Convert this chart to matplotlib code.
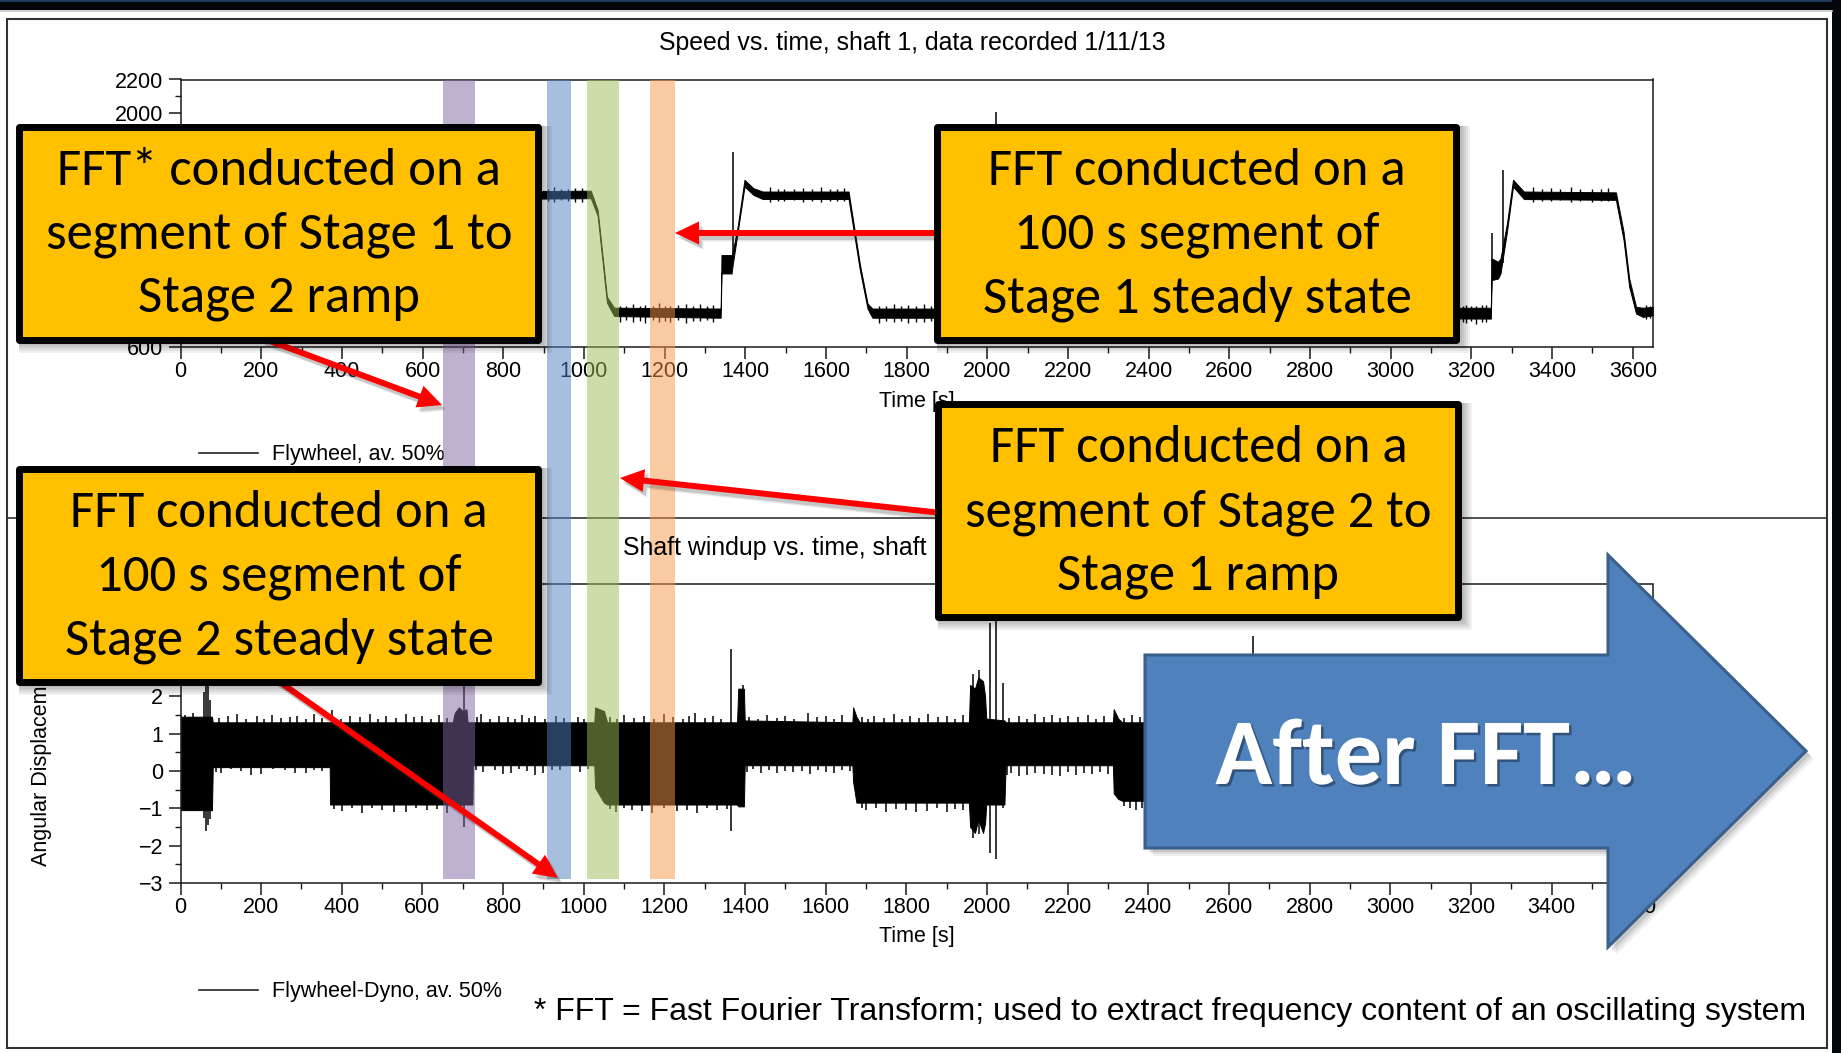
import numpy as np
import matplotlib
matplotlib.use("Agg")
import matplotlib.pyplot as plt
import matplotlib.patheffects as pe
from matplotlib import font_manager
from matplotlib.lines import Line2D
from matplotlib.patches import Rectangle, Polygon
from matplotlib.transforms import Affine2D, blended_transform_factory

# ---------------------------------------------------------------------------
# Flywheel speed, shaft 1 (rpm): lower / upper edge of the recorded trace
speed_t = [0, 370, 400, 425, 690, 705, 714, 740, 1017, 1034, 1057, 1075,
           1339, 1341, 1366, 1368, 1381, 1398, 1420, 1443, 1656, 1684, 1703,
           1715, 1962, 1990, 2010, 2040, 2318, 2345, 2368, 3248, 3250, 3266,
           3272, 3288, 3303, 3330, 3558, 3577, 3591, 3608, 3625, 3650]
speed_lo = [1485, 1485, 1150, 775, 775, 1150, 1560, 1485, 1490, 1385, 865, 785,
            775, 1040, 1040, 1080, 1285, 1560, 1510, 1485, 1485, 1060, 830,
            775, 775, 1250, 1480, 1485, 1485, 1150, 775, 770, 1000, 1010,
            1040, 1290, 1560, 1485, 1480, 1240, 960, 800, 780, 790]
speed_hi = [1530, 1530, 1200, 830, 830, 1250, 1610, 1530, 1535, 1420, 900, 835,
            830, 1150, 1150, 1160, 1320, 1600, 1550, 1530, 1530, 1095, 860,
            830, 830, 1350, 1540, 1530, 1530, 1190, 830, 835, 1130, 1110,
            1130, 1340, 1600, 1530, 1525, 1290, 1010, 840, 835, 840]

# isolated speed spikes (s, rpm, rpm)
speed_spike_t = [1369, 2021, 3251, 3278]
speed_spike_lo = [1150, 1500, 1000, 1100]
speed_spike_hi = [1764, 2003, 1281, 1657]

# ragged edge of the speed trace
speed_fringe_t = [912, 925, 944, 960, 978, 995, 1090, 1105, 1122, 1138, 1151,
                  1170, 1186, 1200, 1214, 1233, 1252, 1270, 1288, 1305, 1321,
                  1462, 1480, 1497, 1520, 1544, 1566, 1588, 1610, 1628, 1645,
                  1732, 1750, 1768, 1786, 1803, 1822, 1842, 1860,
                  3178, 3186, 3200, 3212, 3225, 3236, 3352, 3375, 3398, 3420,
                  3447, 3470, 3498, 3520, 3538, 3632, 3642]
speed_fringe_lo = [1472, 1470, 1478, 1475, 1470, 1468, 752, 760, 748, 758, 745,
                   760, 752, 756, 750, 760, 742, 758, 755, 760, 748,
                   1470, 1476, 1472, 1478, 1466, 1475, 1470, 1476, 1472, 1474,
                   742, 755, 750, 758, 745, 752, 748, 756,
                   752, 745, 756, 740, 750, 748, 1468, 1476, 1472, 1478,
                   1466, 1474, 1470, 1476, 1472, 765, 772]
speed_fringe_hi = [1548, 1555, 1545, 1545, 1550, 1552, 848, 845, 858, 846, 852,
                   848, 862, 845, 845, 850, 855, 848, 860, 846, 850,
                   1556, 1545, 1548, 1546, 1552, 1546, 1558, 1545, 1546, 1550,
                   848, 846, 858, 845, 852, 848, 856, 846,
                   846, 850, 845, 848, 850, 852, 1555, 1546, 1550, 1545,
                   1556, 1546, 1548, 1545, 1552, 852, 848]

# Shaft windup, flywheel-dyno (deg): lower / upper edge of the recorded trace
wind_t = [0, 78, 80, 370, 371, 675, 680, 690, 700, 709, 712, 724, 725, 1026,
          1028, 1050, 1058, 1380, 1383, 1397, 1399, 1666, 1668, 1676, 1684,
          1955, 1958, 1970, 1978, 1990, 1995, 1998, 2043, 2046, 2312, 2314,
          2325, 2335, 3248, 3252, 3296, 3300, 3556, 3558, 3570, 3650]
wind_lo = [-1.05, -1.05, 0.10, 0.10, -0.90, -0.90, -0.90, -0.95, -0.90, -0.90,
           -0.90, -0.90, 0.15, 0.15, -0.45, -0.85, -0.90, -0.90, -0.95, -0.95,
           0.15, 0.15, -0.30, -0.85, -0.85, -0.85, -1.50, -1.66, -1.30, -1.66,
           -1.40, -0.90, -0.90, 0.15, 0.15, -0.60, -0.75, -0.80, -0.80, -1.20,
           -1.10, 0.15, 0.15, -0.85, -0.85, -0.85]
wind_hi = [1.45, 1.45, 1.30, 1.30, 1.30, 1.30, 1.55, 1.70, 1.60, 1.65,
           1.30, 1.30, 1.30, 1.30, 1.70, 1.60, 1.30, 1.30, 2.20, 2.20,
           1.35, 1.30, 1.70, 1.45, 1.30, 1.30, 2.30, 2.20, 2.50, 2.40,
           2.00, 1.40, 1.35, 1.30, 1.30, 1.65, 1.40, 1.30, 1.30, 1.90,
           1.80, 1.30, 1.30, 1.70, 1.30, 1.30]

# isolated windup spikes (s, deg, deg)
wind_spike_t = [58, 64, 69, 74, 702, 1366, 1394, 1964, 1980, 2008, 2023, 2040,
                2660, 3262, 3280]
wind_spike_lo = [-1.25, -1.60, -1.45, -1.30, -1.50, -1.60, -0.95, -1.80, -1.70,
                 -2.20, -2.35, -1.00, 0.80, -1.40, -1.30]
wind_spike_hi = [2.10, 2.55, 2.35, 1.90, 2.45, 3.25, 2.30, 2.60, 2.70,
                 3.95, 4.00, 2.35, 3.60, 2.20, 2.60]

# ragged upper edge of the windup trace (tooth tops, deg)
wind_top_t = [12, 30, 95, 118, 140, 162, 190, 208, 226, 250, 272, 290, 312, 330,
              352, 376, 398, 420, 445, 470, 490, 510, 535, 558, 580, 600, 622,
              640, 660, 735, 746, 768, 790, 812, 830, 846, 864, 880, 905, 930,
              950, 985, 1000, 1065, 1082, 1100, 1125, 1150, 1175, 1200, 1222,
              1245, 1260, 1277, 1300, 1320, 1340, 1410, 1432, 1455, 1478, 1500,
              1522, 1555, 1578, 1600, 1620, 1640, 1690, 1705, 1720, 1745, 1770,
              1790, 1810, 1830, 1854, 1878, 1900, 1920, 1940, 2055, 2080, 2100,
              2120, 2140, 2162, 2180, 2200, 2225, 2250, 2270, 2290, 2340, 2360,
              2380]
wind_top_v = [1.50, 1.55, 1.42, 1.48, 1.52, 1.40, 1.46, 1.38, 1.50, 1.41, 1.45,
              1.47, 1.39, 1.52, 1.42, 1.63, 1.40, 1.48, 1.43, 1.52, 1.38, 1.47,
              1.41, 1.52, 1.44, 1.46, 1.39, 1.50, 1.42, 1.45, 1.52, 1.40, 1.47,
              1.43, 1.38, 1.50, 1.41, 1.46, 1.39, 1.48, 1.42, 1.45, 1.40, 1.44,
              1.39, 1.50, 1.42, 1.46, 1.40, 1.52, 1.43, 1.38, 1.47, 1.55, 1.41,
              1.48, 1.40, 1.45, 1.39, 1.50, 1.42, 1.47, 1.40, 1.55, 1.43, 1.48,
              1.39, 1.50, 1.44, 1.40, 1.48, 1.42, 1.52, 1.39, 1.46, 1.41, 1.52,
              1.43, 1.48, 1.40, 1.50, 1.42, 1.48, 1.39, 1.52, 1.44, 1.50, 1.41,
              1.46, 1.43, 1.50, 1.40, 1.48, 1.42, 1.50, 1.44]

# ragged lower edge of the windup trace (tooth bottoms, deg)
wind_low_t = [380, 400, 425, 450, 475, 500, 530, 560, 585, 610, 635, 660,
              1065, 1080, 1100, 1120, 1145, 1170, 1200, 1230, 1255, 1280, 1305,
              1330, 1355, 1690, 1700, 1725, 1750, 1775, 1800, 1825, 1850, 1875,
              1900, 1920, 1940, 2340, 2355, 2370, 2385,
              88, 100, 125, 150, 175, 200, 230, 260, 285, 310, 330, 350,
              732, 750, 780, 800, 820, 840, 860, 880, 900, 920, 940, 990, 1010,
              1405, 1420, 1440, 1460, 1480, 1500, 1520, 1540, 1560, 1580, 1600,
              1620, 1640, 1660, 2050, 2060, 2080, 2100, 2120, 2140, 2160, 2180,
              2200, 2220, 2240, 2260, 2280, 2300]
wind_low_v = [-1.02, -1.08, -0.98, -1.12, -1.00, -1.05, -1.09, -1.10, -0.99,
              -1.06, -1.03, -1.12, -1.02, -1.10, -0.98, -1.05, -1.08, -1.12,
              -1.00, -1.08, -1.04, -1.12, -0.99, -1.06, -1.03, -1.00, -1.05,
              -0.98, -1.10, -1.02, -1.04, -1.09, -1.08, -1.00, -1.10, -1.03,
              -1.06, -0.95, -1.00, -1.05, -0.98,
              -0.02, -0.05, 0.05, 0.00, -0.10, -0.08, 0.04, 0.02, -0.06, -0.05,
              0.03, 0.00, 0.02, -0.02, 0.02, -0.08, -0.05, 0.04, 0.00, -0.10,
              -0.06, 0.03, 0.02, -0.03, 0.05, -0.02, 0.04, -0.06, 0.03, -0.05,
              0.01, -0.04, 0.00, -0.08, 0.02, -0.02, -0.06, 0.02, 0.00, -0.10,
              -0.05, -0.15, -0.12, -0.06, -0.08, -0.10, -0.14, -0.04, -0.12,
              -0.06, -0.08, -0.02, -0.08]

# FFT analysis windows (s)
window_start = [650, 908, 1007, 1165]
window_end = [729, 968, 1086, 1225]
window_color = ['#8064A2', '#4F81BD', '#9BBB59', '#F79646']

time_major = np.arange(0, 3601, 200)
time_minor = np.arange(0, 3651, 100)

callout_lines = [
    ["FFT* conducted on a", "segment of Stage 1 to", "Stage 2 ramp"],
    ["FFT conducted on a", "100 s segment of", "Stage 1 steady state"],
    ["FFT conducted on a", "segment of Stage 2 to", "Stage 1 ramp"],
    ["FFT conducted on a", "100 s segment of", "Stage 2 steady state"],
]

# ---------------------------------------------------------------------------
available = {f.name for f in font_manager.fontManager.ttflist}
CHART_FONT = 'Liberation Sans' if 'Liberation Sans' in available else 'DejaVu Sans'
NOTE_FONT = 'Liberation Sans Narrow' if 'Liberation Sans Narrow' in available else CHART_FONT
SLIDE_FONT = next((f for f in ('Carlito', 'Lato', 'Open Sans') if f in available), 'DejaVu Sans')
plt.rcParams['font.family'] = [CHART_FONT, 'DejaVu Sans']

W, H = 1841, 1053
fig = plt.figure(figsize=(W / 100, H / 100), dpi=100)
fig.patch.set_facecolor('white')
PX = Affine2D().scale(1 / W, -1 / H).translate(0, 1) + fig.transFigure
renderer = fig.canvas.get_renderer()


def axes_px(l, t, r, b):
    return fig.add_axes([l / W, 1 - b / H, (r - l) / W, (b - t) / H])


def fit_width(txt, target):
    w = txt.get_window_extent(renderer).width
    txt.set_fontsize(txt.get_fontsize() * target / w)
    return txt.get_fontsize()


def style_axes(ax):
    for s in ax.spines.values():
        s.set_color('#1a1a1a')
        s.set_linewidth(1.1)
    ax.tick_params(which='major', direction='out', length=8.5, width=1.1,
                   labelsize=15.5, pad=1.5, color='#1a1a1a')
    ax.tick_params(axis='y', which='major', pad=4)
    ax.tick_params(which='minor', direction='out', length=4.5, width=1.0,
                   color='#1a1a1a')
    ax.set_xlim(0, 3650)
    ax.set_xticks(time_major)
    ax.set_xticks(time_minor, minor=True)


# --- slide frame ---------------------------------------------------------
fig.add_artist(Rectangle((0, 0), W, 9.5, transform=PX, facecolor='#03070c',
                         lw=0, zorder=10))
fig.add_artist(Rectangle((0, 0), W, 2, transform=PX, facecolor='#1d3756',
                         lw=0, zorder=10))
fig.add_artist(Rectangle((1832, 0), 9, H, transform=PX, facecolor='#03070c',
                         lw=0, zorder=10))
fig.add_artist(Line2D([0, 1832], [10.5, 10.5], transform=PX, color='#c8c8c8',
                      lw=1.2, zorder=10))
fig.add_artist(Rectangle((7, 19), 1820, 1029, transform=PX, facecolor='none',
                         edgecolor='#333333', lw=1.5, zorder=1))
fig.add_artist(Line2D([7, 1827], [518, 518], transform=PX, color='#333333',
                      lw=1.2, zorder=1))

# --- speed vs. time --------------------------------------------------------
ax1 = axes_px(180.5, 79.5, 1653, 347)
ax1.fill_between(speed_t, speed_lo, speed_hi, facecolor='black',
                 edgecolor='black', lw=0.7)
ax1.vlines(speed_spike_t, speed_spike_lo, speed_spike_hi, color='black', lw=1.1)
ax1.vlines(speed_fringe_t, speed_fringe_lo, speed_fringe_hi, color='black', lw=1.0)
style_axes(ax1)
ax1.set_ylim(600, 2200)
ax1.set_yticks(np.arange(600, 2201, 200))
ax1.set_yticks(np.arange(600, 2201, 100), minor=True)
ax1.set_xlabel('Time [s]', fontsize=15.5)
ax1.xaxis.label.set_verticalalignment('baseline')
ax1.xaxis.set_label_coords(0.5, (347 - 407) / 267.5)
ax1.set_ylabel('Speed [rpm]', fontsize=15.5)
ax1.yaxis.label.set_verticalalignment('center')
ax1.yaxis.set_label_coords((42 - 180.5) / 1472.5, 0.5)
ax1.legend(handles=[Line2D([], [], color='#222222', lw=1.2)],
           labels=['Flywheel, av. 50%'], loc='center left',
           bbox_to_anchor=(199 / W, 1 - 455 / H), bbox_transform=fig.transFigure,
           frameon=False, borderpad=0, borderaxespad=0, handlelength=2.75,
           handletextpad=0.65, fontsize=15.5)

# --- shaft windup vs. time --------------------------------------------------
ax2 = axes_px(180.5, 584, 1652.5, 883)
ax2.fill_between(wind_t, wind_lo, wind_hi, facecolor='black',
                 edgecolor='black', lw=0.7)
ax2.vlines(wind_spike_t, wind_spike_lo, wind_spike_hi, color='black', lw=1.1)
ax2.vlines(wind_top_t, 1.2, wind_top_v, color='black', lw=1.1)
ax2.vlines(wind_low_t, wind_low_v, np.asarray(wind_low_v) + 0.3,
           color='black', lw=1.1)
style_axes(ax2)
ax2.set_ylim(-3, 5)
ax2.set_yticks(np.arange(-3, 6, 1))
ax2.set_yticks(np.arange(-3, 5.01, 0.5), minor=True)
ax2.set_xlabel('Time [s]', fontsize=15.5)
ax2.xaxis.label.set_verticalalignment('baseline')
ax2.xaxis.set_label_coords(0.5, (883 - 942) / 299)
ax2.set_ylabel('Angular Displacement [deg]', fontsize=15.5)
ax2.yaxis.label.set_verticalalignment('center')
ax2.yaxis.set_label_coords((42 - 180.5) / 1472, 0.5)
ax2.legend(handles=[Line2D([], [], color='#222222', lw=1.2)],
           labels=['Flywheel-Dyno, av. 50%'], loc='center left',
           bbox_to_anchor=(199 / W, 1 - 992 / H), bbox_transform=fig.transFigure,
           frameon=False, borderpad=0, borderaxespad=0, handlelength=2.75,
           handletextpad=0.65, fontsize=15.5)

# chart titles
t_top = fig.text(912, 50, 'Speed vs. time, shaft 1, data recorded 1/11/13',
                 transform=PX, ha='center', va='baseline', fontsize=17)
title_fs = fit_width(t_top, 509)
fig.text(912, 555, 'Shaft windup vs. time, shaft 1, data recorded 1/11/13',
         transform=PX, ha='center', va='baseline', fontsize=title_fs)

# --- highlighted FFT windows across both charts ----------------------------
band_tf = blended_transform_factory(ax1.transData, fig.transFigure)
y_top, y_bot = 1 - 80 / H, 1 - 879 / H
for s, e, c in zip(window_start, window_end, window_color):
    fig.add_artist(Rectangle((s, y_bot), e - s, y_top - y_bot, transform=band_tf,
                             facecolor=c, alpha=0.5, lw=0, zorder=2))


# --- red pointer arrows ------------------------------------------------------
def arrow_outline(tail, tip, half_w=3.0, head_len=24.0, head_half=11.5):
    tail = np.asarray(tail, float)
    tip = np.asarray(tip, float)
    u = (tip - tail) / np.hypot(*(tip - tail))
    n = np.array([-u[1], u[0]])
    base = tip - u * head_len
    return np.array([tail + n * half_w, base + n * half_w, base + n * head_half,
                     tip, base - n * head_half, base - n * half_w,
                     tail - n * half_w])


pointers = [((262, 338), (442, 405)), ((950, 233), (675, 233)),
            ((960, 515), (620, 478)), ((260, 668), (558, 878))]
for tail, tip in pointers:
    pts = arrow_outline(tail, tip)
    for off, a in ((4.5, 0.12), (3.0, 0.2)):
        fig.add_artist(Polygon(pts + [off, off + 1], closed=True, transform=PX,
                               facecolor='#404040', alpha=a, lw=0, zorder=2.5))
    fig.add_artist(Polygon(pts, closed=True, transform=PX, facecolor='#ff0000',
                           lw=0, zorder=3))

# --- yellow callouts ---------------------------------------------------------
boxes = [(16, 123, 542, 343), (934, 123, 1460, 343),
         (935, 400, 1462, 620), (16, 465, 542, 685)]
box_fs = None
for (x0, y0, x1, y1), lines in zip(boxes, callout_lines):
    for d in (2, 4, 6, 8, 10):
        fig.add_artist(Rectangle((x0 + 3, y0 + 3), x1 - x0 + d - 3, y1 - y0 + d - 3,
                                 transform=PX, facecolor='black', alpha=0.06,
                                 lw=0, zorder=3.5))
    fig.add_artist(Rectangle((x0 + 3.5, y0 + 3.5), x1 - x0 - 7, y1 - y0 - 7,
                             transform=PX, facecolor='#FFC000', edgecolor='black',
                             lw=5, joinstyle='round', zorder=4))
    cx = (x0 + x1) / 2
    for i, line in enumerate(lines):
        t = fig.text(cx, y0 + 62 + 64 * i, line, transform=PX, ha='center',
                     va='baseline', family=[SLIDE_FONT, 'DejaVu Sans'],
                     fontsize=box_fs or 34, color='black', zorder=5)
        if box_fs is None:
            box_fs = fit_width(t, 444)

# --- big blue arrow ------------------------------------------------------------
big_arrow = np.array([(1145, 655), (1608, 655), (1608, 555), (1806, 751),
                      (1608, 947), (1608, 848), (1145, 848)], float)
for d, a in ((8, 0.06), (6, 0.08), (4, 0.1)):
    fig.add_artist(Polygon(big_arrow + [d, d], closed=True, transform=PX,
                           facecolor='black', alpha=a, lw=0, zorder=6))
fig.add_artist(Polygon(big_arrow, closed=True, transform=PX, facecolor='#4F81BD',
                       edgecolor='#3A5F8B', lw=2.2, joinstyle='miter', zorder=7))
after = fig.text(1426, 784, 'After FFT\u2026', transform=PX, ha='center',
                 va='baseline', color='white', fontweight='bold',
                 family=[SLIDE_FONT, 'DejaVu Sans'], fontsize=60, zorder=8)
fit_width(after, 422)
after.set_path_effects([pe.withSimplePatchShadow(offset=(1.8, -1.8),
                                                 shadow_rgbFace='#1f3350',
                                                 alpha=0.6)])

# --- footnote ----------------------------------------------------------------
note = fig.text(534, 1012, '* FFT = Fast Fourier Transform; used to extract '
                'frequency content of an oscillating system', transform=PX,
                ha='left', va='center', family=[NOTE_FONT, 'DejaVu Sans'],
                fontsize=22, color='black', zorder=5)
fit_width(note, 1271)

fig.savefig('out.png', dpi=100)
